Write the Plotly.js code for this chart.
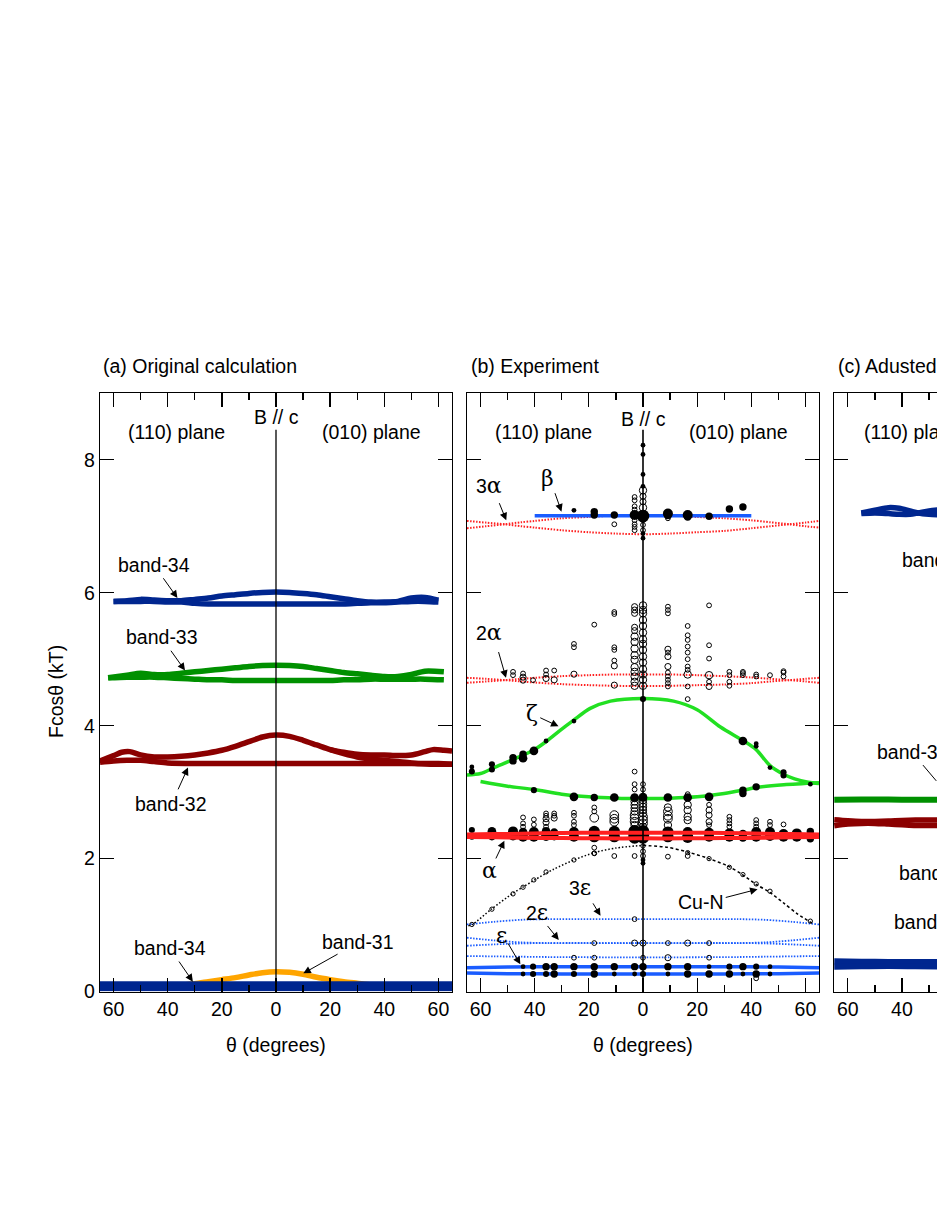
<!DOCTYPE html>
<html><head><meta charset="utf-8">
<script src="https://cdn.plot.ly/plotly-3.0.1.min.js"></script>
<style>html,body{margin:0;padding:0;background:#fff;overflow:hidden}#chart{width:937px;height:1213px}</style>
</head><body><div id="chart"></div>
<script>
// ================= DATA =================
// ---- Panel (a) Original calculation ----
const a34U_t = [-60,-55,-50,-45,-40,-35,-30,-25,-20,-15,-10,-5,0,5,10,15,20,25,30,35,40,45,50,55,60];
const a34U_F = [5.87,5.88,5.90,5.89,5.88,5.88,5.90,5.92,5.95,5.97,5.99,6.005,6.01,6.005,5.99,5.97,5.94,5.91,5.88,5.86,5.86,5.87,5.92,5.93,5.89];
const a34L_F = [5.87,5.87,5.87,5.87,5.86,5.86,5.84,5.83,5.83,5.83,5.83,5.83,5.83,5.83,5.83,5.83,5.83,5.83,5.84,5.85,5.85,5.86,5.87,5.87,5.86];
const a33_t  = [-62,-55,-50,-45,-40,-35,-30,-25,-20,-15,-10,-5,0,5,10,15,20,25,30,35,40,45,50,55,62];
const a33U_F = [4.72,4.76,4.79,4.77,4.77,4.79,4.81,4.83,4.85,4.87,4.89,4.905,4.91,4.905,4.89,4.86,4.83,4.80,4.78,4.76,4.74,4.74,4.77,4.82,4.81];
const a33L_F = [4.72,4.73,4.73,4.73,4.72,4.71,4.70,4.69,4.69,4.68,4.68,4.68,4.68,4.68,4.68,4.68,4.68,4.69,4.69,4.70,4.70,4.70,4.70,4.70,4.69];
const a32U_t = [-65,-60,-57,-54,-50,-45,-40,-35,-30,-25,-20,-15,-10,-5,0,5,10,15,20,25,30,35,40,45,50,55,60,65];
const a32U_F = [3.47,3.55,3.60,3.61,3.56,3.53,3.53,3.54,3.56,3.59,3.63,3.69,3.76,3.83,3.86,3.84,3.78,3.71,3.64,3.58,3.53,3.50,3.48,3.46,3.44,3.43,3.43,3.42];
const a32L_t = [-65,-60,-55,-50,-45,-40,-30,-20,-10,0,10,20,30,40,50,60,65];
const a32L_F = [3.45,3.47,3.48,3.48,3.46,3.44,3.43,3.43,3.43,3.43,3.43,3.43,3.43,3.43,3.43,3.42,3.42];
const a32C_t = [20,25,30,35,40,45,50,55,58,62,65];
const a32C_F = [3.64,3.60,3.57,3.56,3.56,3.55,3.56,3.61,3.64,3.63,3.62];
const a31_t  = [-35,-30,-25,-20,-15,-10,-5,0,5,10,15,20,25,30,35,40];
const a31_F  = [0.10,0.12,0.15,0.18,0.21,0.25,0.285,0.30,0.29,0.26,0.215,0.18,0.15,0.125,0.10,0.09];
const a34low_t  = [-65,-40,-20,0,20,40,65];
const a34lowU_F = [0.11,0.11,0.11,0.11,0.11,0.11,0.11];
const a34lowL_F = [0.05,0.05,0.05,0.05,0.05,0.05,0.05];

// ---- Panel (b) Experiment: curves ----
const bBeta_t = [-40,40];
const bBeta_F = [7.157,7.157];
const bHarm_t = [-65,-58,-51,-45,-40,-30,-20,-10,0,10,20,30,40,47,54,60,65];
const b3aA_F = [6.97,7.00,7.03,7.06,7.08,7.12,7.14,7.16,7.16,7.16,7.14,7.12,7.09,7.06,7.03,7.00,6.98];
const b3aB_F = [7.08,7.055,7.03,7.00,6.98,6.94,6.91,6.89,6.88,6.89,6.91,6.93,6.97,7.00,7.03,7.055,7.08];
const b2aA_F = [4.645,4.665,4.685,4.705,4.72,4.745,4.76,4.77,4.77,4.77,4.76,4.745,4.725,4.705,4.685,4.665,4.645];
const b2aB_F = [4.72,4.705,4.685,4.665,4.65,4.625,4.61,4.60,4.595,4.60,4.61,4.62,4.64,4.665,4.685,4.705,4.72];
const bAlpha_t = [-65,-55,-45,-30,-15,0,15,30,45,55,65];
const bAlphaA_F = [2.365,2.37,2.375,2.385,2.39,2.39,2.39,2.385,2.375,2.37,2.365];
const bAlphaB_F = [2.325,2.32,2.315,2.31,2.305,2.305,2.305,2.31,2.315,2.32,2.325];
const bZetaU_t = [-65,-60,-55,-48,-40.5,-35.5,-30.6,-25.7,-19.5,-12,0,11.3,20,28.6,37.2,41.8,46.9,51.9,56,61,65];
const bZetaU_F = [3.26,3.28,3.37,3.49,3.63,3.77,3.93,4.08,4.26,4.37,4.41,4.37,4.24,3.98,3.77,3.64,3.40,3.27,3.20,3.15,3.13];
const bZetaL_t = [-60,-50,-40.3,-30,-20,-10,0,10,20,30,37,42,52,65];
const bZetaL_F = [3.16,3.09,3.04,2.97,2.93,2.91,2.905,2.91,2.93,2.98,3.03,3.07,3.11,3.14];
const bCuNl_t = [-64.5,-63,-56,-48,-44,-40,-33,-25.5,-18,-10,0];
const bCuNl_F = [0.99,1.01,1.24,1.48,1.58,1.68,1.84,1.98,2.09,2.16,2.20];
const bCuNr_t = [0,9,16.5,24.4,31.8,36.7,42.3,46.6,52,57,63.3];
const bCuNr_F = [2.20,2.17,2.10,2.00,1.88,1.76,1.60,1.50,1.33,1.17,1.01];
const bEps_t  = [-65,-50,-30,0,30,50,65];
const bEpsA_F = [0.36,0.37,0.375,0.375,0.375,0.37,0.36];
const bEpsB_F = [0.28,0.27,0.265,0.265,0.265,0.27,0.28];
const bEh_t   = [-65,-55,-45,-35,0,35,45,55,65];
const b3e_F   = [1.01,1.05,1.08,1.09,1.09,1.09,1.08,1.05,1.01];
const b2eA_F  = [0.81,0.77,0.74,0.73,0.73,0.73,0.74,0.77,0.81];
const b2eB_F  = [0.69,0.71,0.725,0.73,0.73,0.73,0.725,0.71,0.69];
const b2eC_F  = [0.535,0.53,0.525,0.52,0.515,0.52,0.525,0.53,0.535];
const bAxis_t = [0,0];
const bAxis_F = [0,8.45];

// ---- Panel (b) Experiment: measured frequencies (amplitude class) ----
const bFill_t = [-25.5,-18,-18,-10.6,-3.1,0,9.2,9.2,16.5,16.5,24.4,31.9,36.9,
  0,0,0,0,0,0,
  -63.2,-63.2,-55.8,-55.8,-48,-48,-44.3,-44.3,-40.3,-35.8,-25.5,0,36.9,41.8,41.8,46.9,51.9,51.9,61.8,
  -40.3,-25.5,-18,-10.6,-3.1,0,9.2,16.5,24.4,36.9,36.9,41.8,
  -63.2,-63.2,-55.8,-55.8,-48,-48,-44.3,-44.3,-40.3,-40.3,-35.8,-35.8,-32.8,-32.8,-25.5,-25.5,-18,-18,-10.6,-10.6,
  -3.1,-3.1,-3.1,0,0,0,9.2,9.2,16.5,16.5,24.4,24.4,31.9,31.9,36.9,36.9,41.8,41.8,46.9,46.9,51.9,51.9,56.8,56.8,61.8,61.8,61.8,
  0,0,
  -44.3,-44.3,-40.6,-40.6,-35.8,-35.8,-32.8,-32.8,-25.5,-25.5,-18,-18,-10.6,-10.6,-3.1,-3.1,0,0,9.2,9.2,16.5,16.5,24.4,24.4,31.9,31.9,36.9,36.9,41.8,41.8,46.9,46.9];
const bFill_F = [7.24,7.22,7.17,7.17,7.17,7.155,7.19,7.16,7.17,7.14,7.15,7.26,7.29,
  8.22,8.08,7.78,7.60,6.89,6.82,
  3.38,3.31,3.42,3.34,3.52,3.47,3.57,3.51,3.62,3.77,4.07,4.40,3.77,3.73,3.69,3.37,3.30,3.25,3.12,
  3.03,2.93,2.92,2.92,2.92,2.92,2.92,2.92,2.93,3.03,2.98,3.08,
  2.43,2.33,2.41,2.34,2.41,2.35,2.40,2.33,2.40,2.33,2.41,2.34,2.39,2.34,2.40,2.33,2.41,2.33,2.41,2.33,
  2.41,2.32,2.36,2.41,2.32,2.36,2.40,2.33,2.40,2.32,2.39,2.33,2.38,2.33,2.37,2.32,2.40,2.33,2.40,2.34,2.37,2.33,2.38,2.33,2.41,2.35,2.30,
  1.98,1.93,
  0.375,0.265,0.375,0.265,0.375,0.265,0.375,0.265,0.375,0.265,0.375,0.265,0.375,0.265,0.375,0.265,0.375,0.265,0.375,0.265,0.375,0.265,0.375,0.265,0.375,0.265,0.375,0.265,0.375,0.265,0.375,0.265];
const bFill_amp = [1,2,2,2,3,4,3,2,3,2,2,2,2,
  1,1,1,1,1,1,
  1,1.5,1.5,1.5,2,2,2,2.5,2.5,1,1,1.5,2.5,1,1,1,1.5,1.5,1,
  1.5,2.5,2,2.5,2.5,2.5,2.5,2.5,2.5,2,2,2,
  1.5,1.5,2.5,2.5,3,3,2.5,3,3,3,2.5,3,2.5,2.5,3,3,3.5,3.5,3.5,3.5,
  4,4,4,4,4,4,3.5,3.5,3,3.5,3,3,3,3,2.5,2.5,3,3,3,3,3,3,3,3,2,2,2,
  1,1,
  1,1,1.5,1.5,2,1.5,2,2,2,1.5,2,2,2,1,2,1,2,1.5,2,1,2,2,1,2,1.5,2,2,1,1.5,2,1,1];

const bOpen_t = [-10.6,9.2,
  -3.1,-3.1,-3.1,-3.1,-3.1,-3.1,-3.1,-3.1, 0,0,0,0,0,0,0,
  -48,-48,-44.3,-44.3,-44.3,-40.6,-35.8,-35.8,-35.8,-32.8,-32.8,-25.5,-25.5,-25.5,-18,
  -10.6,-10.6,-10.6,-10.6,-10.6,-10.6,-10.6,
  -3.1,-3.1,-3.1,-3.1,-3.1,-3.1,-3.1,-3.1,-3.1,-3.1,-3.1,-3.1,-3.1,-3.1,-3.1,
  0,0,0,0,0,0,0,0,0,0,0,0,0,0,0,
  9.2,9.2,9.2,9.2,9.2,9.2,9.2,9.2,9.2,9.2,9.2,9.2,
  16.5,16.5,16.5,16.5,16.5,16.5,16.5,16.5,16.5,16.5,
  24.4,24.4,24.4,24.4,24.4,24.4, 31.9,31.9,31.9,31.9, 36.9,36.9,36.9, 41.8,41.8, 46.9, 51.9,51.9,51.9,
  16.5,-3.1,-3.1,-3.1,0,0,16.5,
  -44.3,-44.3,-44.3,-40.3,-40.3,-35.8,-35.8,-35.8,-35.8,-35.8,-32.8,-32.8,-32.8,-25.5,-25.5,-25.5,-25.5,-18,-18,-18,
  -10.6,-10.6,-10.6,
  -3.1,-3.1,-3.1,-3.1,-3.1,-3.1,-3.1,-3.1,-3.1,
  0,0,0,0,0,0,0,0,0,0,
  9.2,9.2,9.2,9.2,9.2, 16.5,16.5,16.5,16.5, 24.4,24.4,24.4,24.4,24.4, 31.9,31.9,31.9,31.9, 41.8,41.8,41.8, 46.9,46.9, 51.9,
  -18,-18,-10.6,-3.1,0,0,9.2,16.5,
  -3.1,-18,-3.1,0,9.2,16.5,24.4,-25.5,-18,0,9.2,24.4,41.8];
const bOpen_F = [7.03,7.12,
  7.44,7.39,7.30,7.25,7.09,7.03,6.99,6.94, 7.54,7.45,7.37,7.28,7.09,7.02,6.94,
  4.81,4.76,4.785,4.73,4.685,4.685,4.83,4.77,4.71,4.83,4.69,5.23,5.18,4.775,5.52,
  5.71,5.68,5.18,5.14,4.98,4.90,4.61,
  5.79,5.74,5.69,5.48,5.43,5.34,5.26,5.16,5.06,4.99,4.88,4.81,4.74,4.66,4.60,
  5.81,5.74,5.69,5.59,5.50,5.40,5.30,5.23,5.14,5.04,4.95,4.85,4.77,4.69,4.60,
  5.79,5.74,5.69,5.15,5.10,5.04,4.89,4.80,4.74,4.69,4.64,4.59,
  5.50,5.36,5.29,5.19,5.10,5.00,4.89,4.84,4.77,4.59,
  5.81,5.21,5.01,4.76,4.66,4.59, 4.81,4.76,4.66,4.60, 4.81,4.79,4.76, 4.77,4.74, 4.76, 4.82,4.80,4.74,
  4.40,3.31,3.12,3.04,3.12,3.04,2.97,
  2.62,2.53,2.48,2.59,2.51,2.68,2.645,2.60,2.545,2.48,2.68,2.645,2.61,2.69,2.645,2.555,2.505,2.77,2.71,2.615,
  2.655,2.60,2.555,
  2.91,2.86,2.81,2.76,2.71,2.655,2.605,2.555,2.505,
  2.93,2.88,2.83,2.78,2.73,2.68,2.63,2.58,2.53,2.48,
  2.77,2.71,2.645,2.60,2.505, 2.81,2.73,2.63,2.58, 2.81,2.73,2.655,2.555,2.505, 2.63,2.58,2.53,2.48, 2.58,2.53,2.48, 2.555,2.505, 2.515,
  2.165,2.08,2.04,2.04,2.11,2.04,2.03,2.04,
  1.09,0.73,0.73,0.73,0.73,0.73,0.73,0.51,0.51,0.51,0.51,0.51,0.20];
const bOpen_amp = [1,1,
  1,1,1,1,1,1,1,1, 2,1.5,1.5,2,1,1,1,
  1,1,1,1.5,1.5,1,1,1,1.5,1,1.5,1,1,1.5,1,
  1,1,1,1,1,1.5,1.5,
  1.5,1.5,1.5,1.5,1.5,2,2,2,2,2,2,2,2,2,2,
  2,2,2,2,2,2,2,2,2,2,2,2,2,2,2,
  1,1,1,1.5,1,1.5,1.5,1,1,1,1,1,
  1,1,1,1,1,1,1,1,2,1,
  1,1,1,2,1,1.5, 1,1,1,1, 1,1,1, 1,1, 1, 1,1,1,
  1,1,1,1,1,1,1,
  1,1,1,1,1,1,1,1.5,1.5,1,1,1,1.5,1,1,1,1,1,1,2.5,
  2.5,2.5,2.5,
  2,2,2,2,2,2.5,2.5,2.5,2,
  2,2,2,2,2,2,2.5,2.5,2.5,2,
  2,2.5,2.5,2.5,2, 2,2,2,2, 1,1.5,1.5,1.5,1, 1,1,1,1, 1,1,1, 1,1, 1,
  1,1,1,1,1,1,1,1,
  1,1,1.5,1.5,1,1.5,1,1,1,1,1.5,1,1];
const bCuNpt_t = [-63.2,-55.8,-48,-44.3,-40.3,-35.8,-25.5,-18,0,16.5,24.4,31.9,36.9,41.8,46.9,61.8];
const bCuNpt_F = [1.01,1.24,1.47,1.57,1.68,1.80,1.98,2.08,2.19,2.09,2.00,1.87,1.76,1.62,1.51,1.06];

// ---- Panel (c) Adjusted calculation (visible part) ----
const c34top_t = [-55,-50,-45,-41,-37,-34,-30,-26];
const c34topA_F = [7.20,7.24,7.28,7.27,7.23,7.20,7.18,7.17];
const c34topB_F = [7.19,7.20,7.19,7.18,7.18,7.20,7.23,7.25];
const c33_t = [-65,-55,-45,-35,-25];
const c33_F = [2.885,2.89,2.89,2.885,2.885];
const c32_t = [-65,-60,-55,-50,-45,-40,-35,-30,-25];
const c32A_F = [2.585,2.57,2.56,2.56,2.565,2.575,2.58,2.58,2.58];
const c32B_F = [2.495,2.52,2.53,2.53,2.52,2.51,2.50,2.50,2.50];
const c34bot_t = [-65,-55,-45,-35,-25];
const c34botA_F = [0.455,0.45,0.445,0.445,0.445];
const c34botB_F = [0.375,0.38,0.385,0.38,0.375];

// tick labels
const xTickVals = [-60,-40,-20,0,20,40,60];
const xTickText = ['60','40','20','0','20','40','60'];
const xMinorVals = [-50,-30,-10,10,30,50];
const yTickVals = [0,2,4,6,8];

// ================= STYLE / LAYOUT =================
const FONT = 'Liberation Sans, Arial, Helvetica, sans-serif';
const FS = 19.5;
const W = 937, H = 1213;
const pxX = v => v / W, pxY = v => 1 - v / H;
const NAVY = '#00268f', GREEN = '#009000', DRED = '#8b0000', ORANGE = '#ffa500';
const BBLUE = '#1a5cff', BGREEN = '#22e022', RED = '#ff2020';
const sz = a => 2.2 + 2.6 * a;

function line(x, y, xa, ya, color, width, dash, shape) {
  return {type: 'scatter', mode: 'lines', x: x, y: y, xaxis: xa, yaxis: ya,
    line: {color: color, width: width, dash: dash || 'solid', shape: shape || 'spline', smoothing: 0.8},
    hoverinfo: 'skip', showlegend: false};
}
const traces = [
  // panel a
  line(a34U_t, a34U_F, 'x', 'y', NAVY, 5.5),
  line(a34U_t, a34L_F, 'x', 'y', NAVY, 5.5),
  line(a33_t, a33U_F, 'x', 'y', GREEN, 5.5),
  line(a33_t, a33L_F, 'x', 'y', GREEN, 5.5),
  line(a32U_t, a32U_F, 'x', 'y', DRED, 5.5),
  line(a32L_t, a32L_F, 'x', 'y', DRED, 5.5),
  line(a32C_t, a32C_F, 'x', 'y', DRED, 5.5),
  line(a31_t, a31_F, 'x', 'y', ORANGE, 5.5),
  line(a34low_t, a34lowU_F, 'x', 'y', NAVY, 6),
  line(a34low_t, a34lowL_F, 'x', 'y', NAVY, 6),
  line(bAxis_t, [0, 8.45], 'x', 'y', '#000', 1.3, 'solid', 'linear'),
  // panel b curves
  line(bHarm_t, b3aA_F, 'x2', 'y2', RED, 2, '1.5px,1.5px'),
  line(bHarm_t, b3aB_F, 'x2', 'y2', RED, 2, '1.5px,1.5px'),
  line(bHarm_t, b2aA_F, 'x2', 'y2', RED, 2, '1.5px,1.5px'),
  line(bHarm_t, b2aB_F, 'x2', 'y2', RED, 2, '1.5px,1.5px'),
  line(bEh_t, b3e_F, 'x2', 'y2', BBLUE, 1.8, '1.5px,1.5px'),
  line(bEh_t, b2eA_F, 'x2', 'y2', BBLUE, 1.8, '1.5px,1.5px'),
  line(bEh_t, b2eB_F, 'x2', 'y2', BBLUE, 1.8, '1.5px,1.5px'),
  line(bEh_t, b2eC_F, 'x2', 'y2', BBLUE, 1.8, '1.5px,1.5px'),
  line(bBeta_t, bBeta_F, 'x2', 'y2', BBLUE, 3.5, 'solid', 'linear'),
  line(bZetaU_t, bZetaU_F, 'x2', 'y2', BGREEN, 3.5),
  line(bZetaL_t, bZetaL_F, 'x2', 'y2', BGREEN, 3.5),
  line(bEps_t, bEpsA_F, 'x2', 'y2', BBLUE, 3.5),
  line(bEps_t, bEpsB_F, 'x2', 'y2', BBLUE, 3.5),
  line(bCuNl_t, bCuNl_F, 'x2', 'y2', '#000', 1.5, '1.5px,2px'),
  line(bCuNr_t, bCuNr_F, 'x2', 'y2', '#000', 1.5, '3px,2.5px'),
  {type: 'scatter', mode: 'markers', x: bCuNpt_t, y: bCuNpt_F, xaxis: 'x2', yaxis: 'y2',
    marker: {symbol: 'circle-open', size: sz(0.8), color: '#000', opacity: 1, line: {width: 1}}, hoverinfo: 'skip', showlegend: false},
  {type: 'scatter', mode: 'markers', x: bOpen_t, y: bOpen_F, xaxis: 'x2', yaxis: 'y2',
    marker: {symbol: 'circle-open', size: bOpen_amp.map(sz), color: '#000', opacity: 1, line: {width: 1}}, hoverinfo: 'skip', showlegend: false},
  {type: 'scatter', mode: 'markers', x: bFill_t, y: bFill_F, xaxis: 'x2', yaxis: 'y2',
    marker: {symbol: 'circle', size: bFill_amp.map(sz), color: '#000', opacity: 1, line: {width: 0}}, hoverinfo: 'skip', showlegend: false},
  line(bAlpha_t, bAlphaA_F, 'x2', 'y2', RED, 4),
  line(bAlpha_t, bAlphaB_F, 'x2', 'y2', RED, 4),
  line(bAxis_t, bAxis_F, 'x2', 'y2', '#000', 1.6, 'solid', 'linear'),
  // panel c
  line(c34top_t, c34topA_F, 'x3', 'y3', NAVY, 5.5),
  line(c34top_t, c34topB_F, 'x3', 'y3', NAVY, 5.5),
  line(c33_t, c33_F, 'x3', 'y3', GREEN, 6),
  line(c32_t, c32A_F, 'x3', 'y3', DRED, 5.5),
  line(c32_t, c32B_F, 'x3', 'y3', DRED, 5.5),
  line(c34bot_t, c34botA_F, 'x3', 'y3', NAVY, 6),
  line(c34bot_t, c34botB_F, 'x3', 'y3', NAVY, 6)
];

const baseAxis = {showline: true, linecolor: '#000', linewidth: 1.3, ticks: 'inside', ticklen: 14,
  tickwidth: 1.3, tickcolor: '#000', showgrid: false, zeroline: false, fixedrange: true,
  tickfont: {family: FONT, size: FS, color: '#000'}};
const yDom = [pxY(991.6), pxY(393.3)];
function xAx(dom, range, anchor, labels) {
  return Object.assign({}, baseAxis, {domain: dom, range: range, anchor: anchor, mirror: 'ticks',
    tickmode: 'array', tickvals: xTickVals, ticktext: xTickText, showticklabels: labels,
    minor: {ticks: 'inside', ticklen: 7, tickwidth: 1.3, tickcolor: '#000', tickmode: 'array', tickvals: xMinorVals, showgrid: false}});
}
function yAx(anchor, labels, mirror) {
  return Object.assign({}, baseAxis, {domain: yDom, range: [0, 9], anchor: anchor, mirror: mirror,
    tickmode: 'array', tickvals: yTickVals, showticklabels: labels});
}

const tfont = {family: FONT, size: FS, color: '#000'};
const ann = [];
function T(xr, yr, x, y, text, xanchor) {
  ann.push({xref: xr, yref: yr, x: x, y: y, text: text, showarrow: false, font: tfont,
    xanchor: xanchor || 'center', yanchor: 'middle'});
}
function A(xr, yr, hx, hy, tx, ty, head) {
  ann.push({xref: xr, yref: yr, axref: xr, ayref: yr, x: hx, y: hy, ax: tx, ay: ty, text: '',
    showarrow: true, arrowhead: head === undefined ? 2 : head, arrowsize: 1.5, arrowwidth: 1, arrowcolor: '#000',
    standoff: 0, startstandoff: 0});
}
const g = s => '<span style="font-family:DejaVu Serif;font-size:22px">' + s + '</span>';

// panel titles
T('paper', 'paper', pxX(101), pxY(365.7), '(a) Original calculation', 'left');
T('paper', 'paper', pxX(469), pxY(365.7), '(b) Experiment', 'left');
T('paper', 'paper', pxX(836), pxY(365.7), '(c) Adusted calculation', 'left');
// axis titles
T('paper', 'paper', pxX(276), pxY(1045), 'θ (degrees)');
T('paper', 'paper', pxX(643), pxY(1045), 'θ (degrees)');
ann.push({xref: 'paper', yref: 'paper', x: pxX(56), y: pxY(692), text: 'Fcosθ (kT)', showarrow: false,
  font: tfont, textangle: -90, xanchor: 'center', yanchor: 'middle'});

// panel a texts
T('x', 'y', 0, 8.64, 'B // c');
T('x', 'y', -36.9, 8.42, '(110) plane');
T('x', 'y', 35.2, 8.42, '(010) plane');
T('x', 'y', -45.0, 6.41, 'band-34'); A('x', 'y', -36.4, 5.92, -42.0, 6.24);
T('x', 'y', -42.2, 5.33, 'band-33'); A('x', 'y', -33.6, 4.83, -39.2, 5.15);
T('x', 'y', -38.6, 2.82, 'band-32'); A('x', 'y', -32.5, 3.37, -36.4, 3.02);
T('x', 'y', -39.1, 0.65, 'band-34'); A('x', 'y', -30.7, 0.15, -36.2, 0.475);
T('x', 'y', 30.4, 0.74, 'band-31'); A('x', 'y', 10.1, 0.275, 23.3, 0.576);

// panel b texts
T('x2', 'y2', 0, 8.62, 'B // c');
T('x2', 'y2', -36.8, 8.42, '(110) plane');
T('x2', 'y2', 35.4, 8.42, '(010) plane');
T('x2', 'y2', -57, 7.62, '3' + g('α')); A('x2', 'y2', -50.5, 7.09, -53.3, 7.37);
T('x2', 'y2', -35.4, 7.72, g('β')); A('x2', 'y2', -30.1, 7.22, -32.7, 7.52);
T('x2', 'y2', -57, 5.40, '2' + g('α')); A('x2', 'y2', -50.6, 4.72, -53.5, 5.13);
T('x2', 'y2', -41, 4.18, g('ζ')); A('x2', 'y2', -31.2, 3.99, -38.5, 4.13);
T('x2', 'y2', -56.7, 1.82, g('α')); A('x2', 'y2', -51.2, 2.27, -54.6, 1.98);
T('x2', 'y2', -23.1, 1.56, '3' + g('ε')); A('x2', 'y2', -15.7, 1.14, -18.8, 1.35);
T('x2', 'y2', -39.1, 1.19, '2' + g('ε')); A('x2', 'y2', -31.1, 0.776, -35.7, 1.01);
T('x2', 'y2', -52.1, 0.85, g('ε')); A('x2', 'y2', -45.3, 0.41, -50.2, 0.75);
T('x2', 'y2', 21.3, 1.35, 'Cu-N'); A('x2', 'y2', 42.3, 1.54, 30.0, 1.41);

// panel c texts
T('x3', 'y3', -54.9, 8.42, '(110) plane', 'left');
T('x3', 'y3', -40.7, 6.49, 'band-34', 'left');
T('x3', 'y3', -49.95, 3.61, 'band-33', 'left'); A('x3', 'y3', -27.3, 3.17, -32.7, 3.43, 0);
T('x3', 'y3', -41.9, 1.79, 'band-32', 'left');
T('x3', 'y3', -43.8, 1.04, 'band-34', 'left');

const layout = {
  width: W, height: H, margin: {l: 0, r: 0, t: 0, b: 0}, paper_bgcolor: '#fff', plot_bgcolor: 'rgba(0,0,0,0)',
  showlegend: false, font: tfont,
  xaxis: xAx([pxX(100), pxX(452)], [-65, 65], 'y', true),
  yaxis: yAx('x', true, 'ticks'),
  xaxis2: xAx([pxX(467), pxX(819)], [-65, 65], 'y2', true),
  yaxis2: yAx('x2', false, 'ticks'),
  xaxis3: xAx([pxX(834), 1], [-65.1, -65.1 + 103 / 2.706], 'y3', true),
  yaxis3: yAx('x3', false, false),
  annotations: ann
};
Plotly.newPlot('chart', traces, layout, {staticPlot: true, displayModeBar: false});
</script></body></html>
